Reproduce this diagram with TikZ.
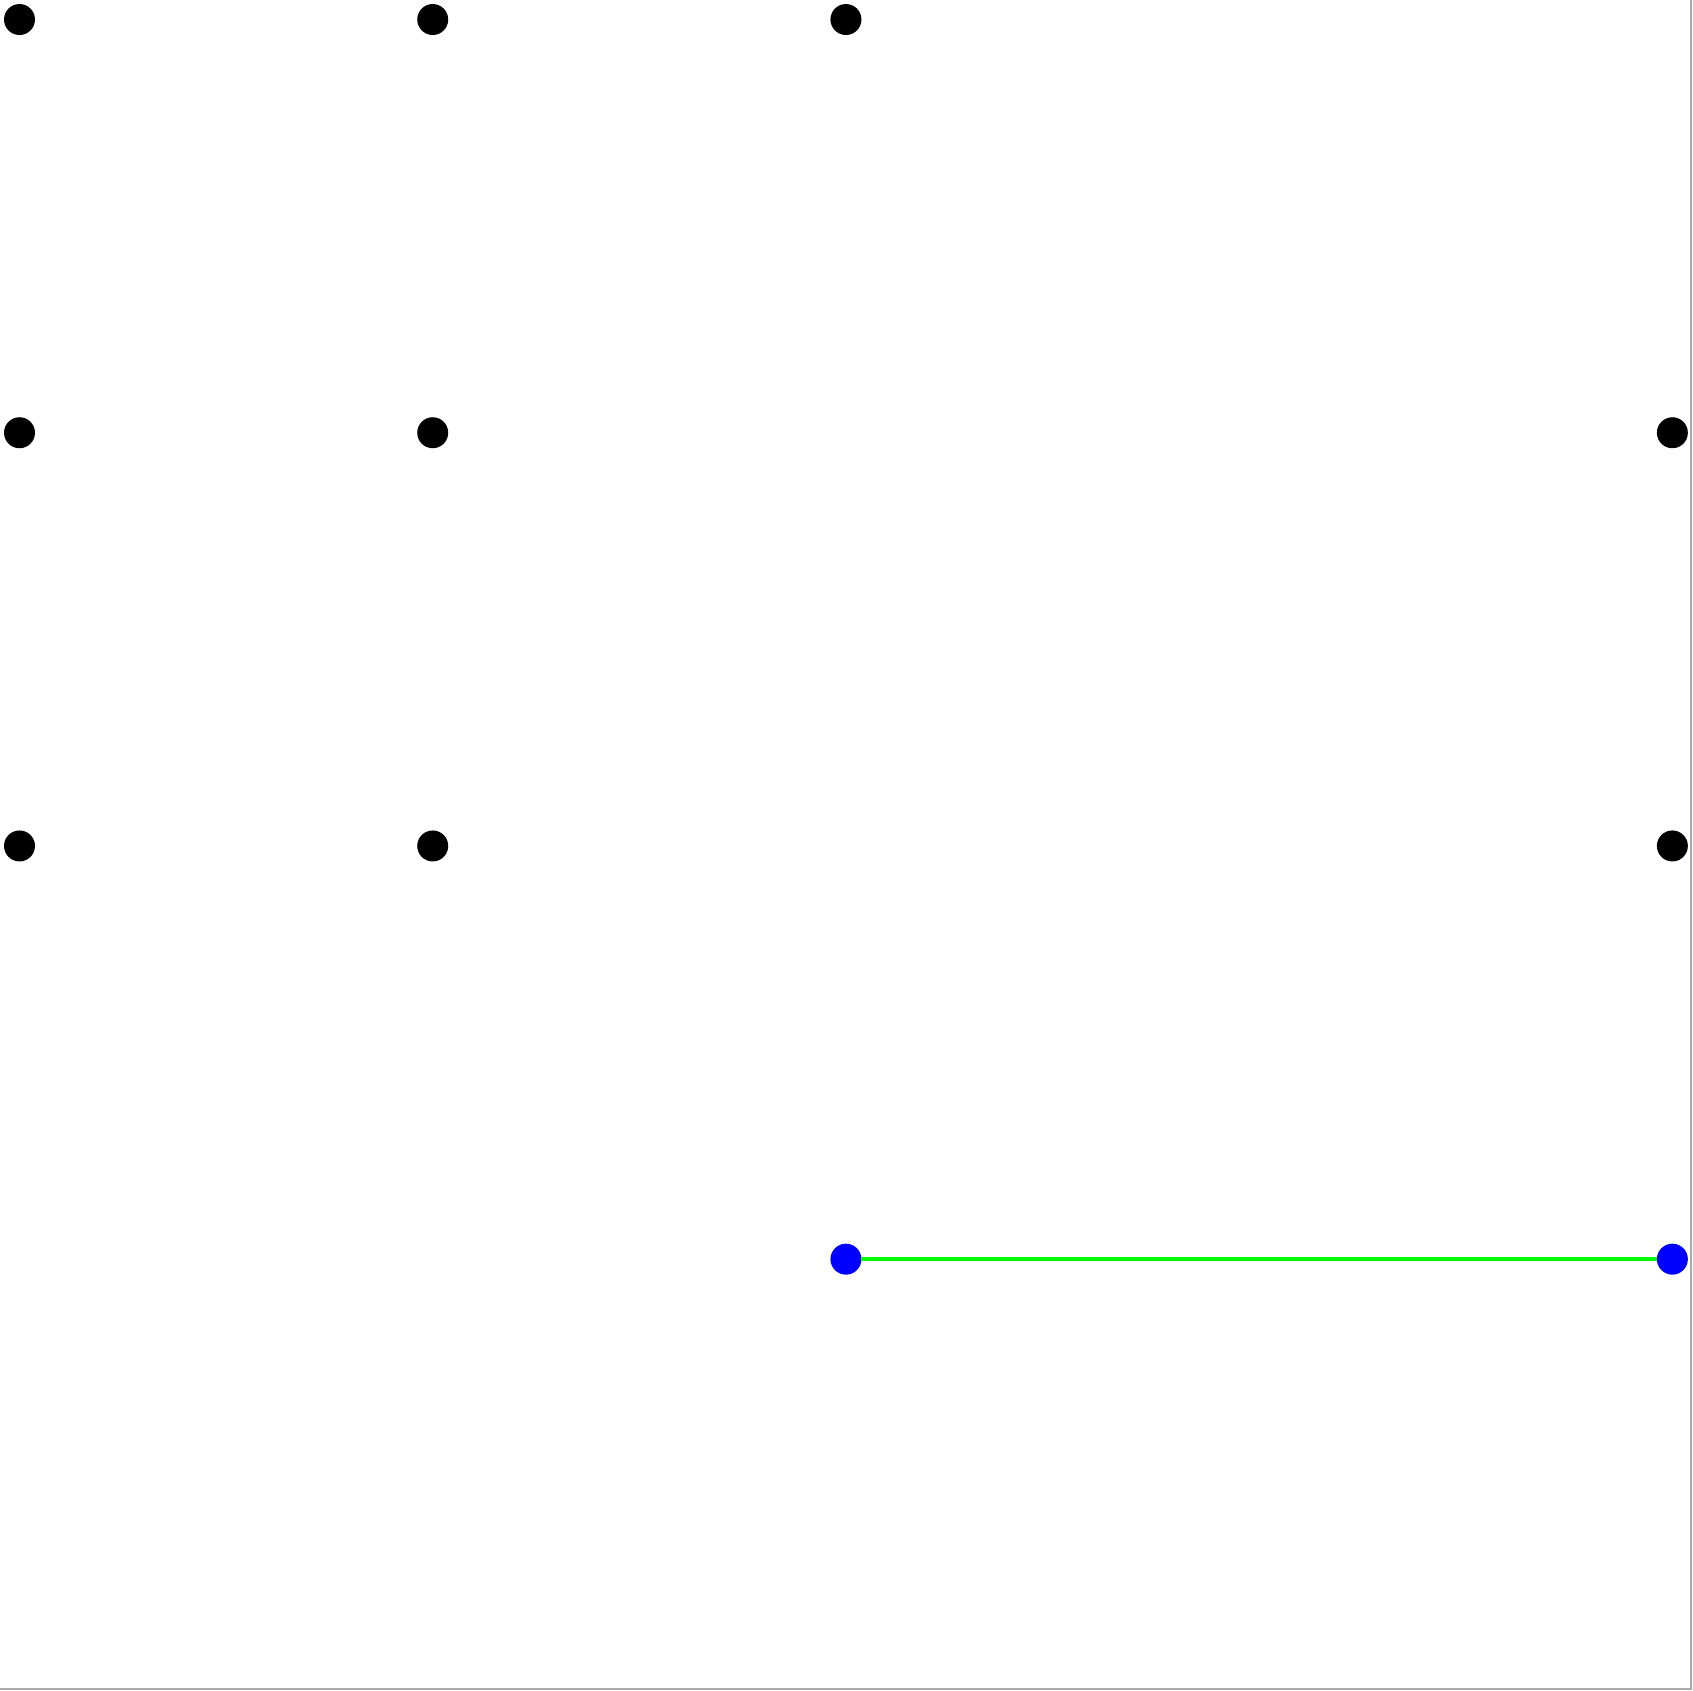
\documentclass[tikz,border=0pt]{standalone}
\usepackage{tikz}
\usetikzlibrary{positioning}
\definecolor{dotblue}{RGB}{0,0,255}
\definecolor{edgegreen}{RGB}{0,255,0}
\definecolor{framegray}{RGB}{170,170,170}

\begin{document}
\begin{tikzpicture}[x=2cm,y=-2cm,
    blackdot/.style={circle,fill=black,inner sep=0pt,outer sep=0pt,minimum size=0.15cm},
    bluedot/.style={circle,fill=dotblue,inner sep=0pt,outer sep=0pt,minimum size=0.15cm},
    link/.style={edgegreen,line width=0.6pt}]
        \useasboundingbox (-0.0472,-0.0472) rectangle (4.050,4.045);
        \draw[framegray,line width=0.3pt] (4.046,-0.0472) -- (4.046,4.041) -- (-0.0472,4.041);
        \foreach \i/\j in {0/0,1/0,2/0,0/1,1/1,4/1,0/2,1/2,4/2}{
          \node[blackdot] (p\i\j) at (\i,\j) {};
        }
        \node[bluedot] (q23) at (2,3) {};
        \node[bluedot] (q43) at (4,3) {};
        \draw[link] (q23) -- (q43);
      \end{tikzpicture}
\end{document}
